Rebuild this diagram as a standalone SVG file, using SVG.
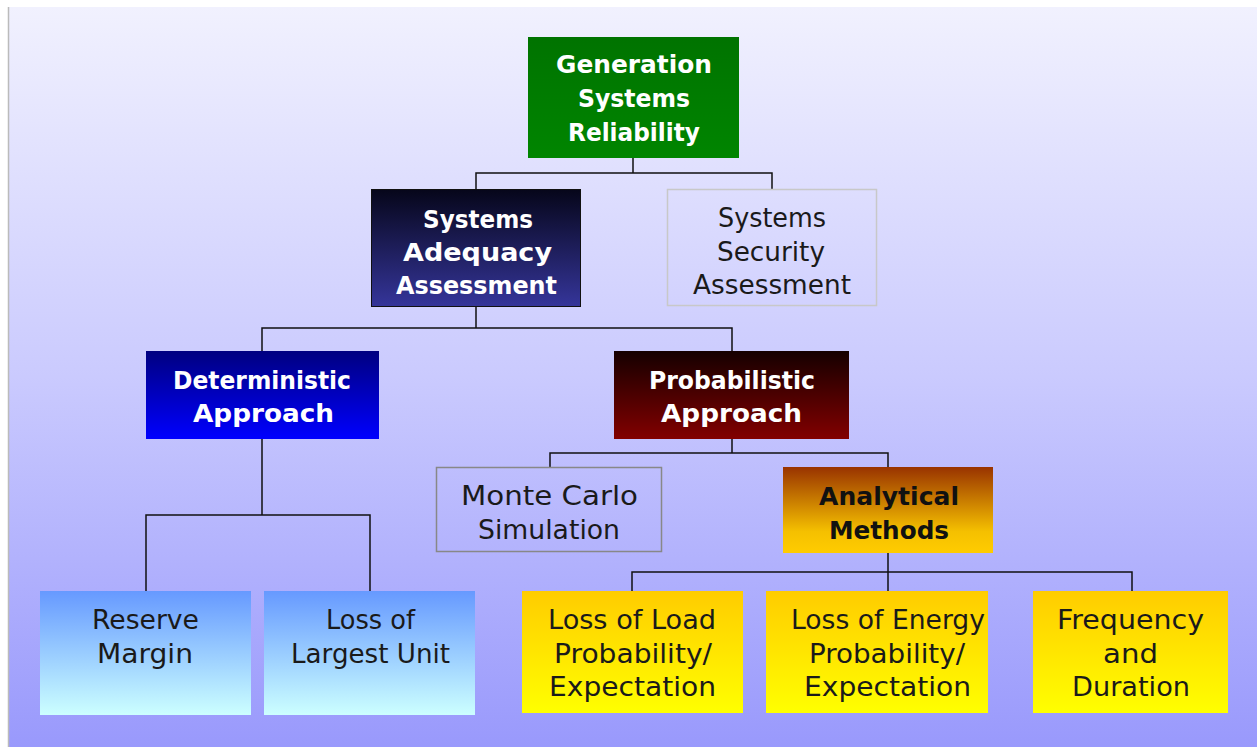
<svg xmlns="http://www.w3.org/2000/svg" width="1257" height="747" viewBox="0 0 1257 747">
<style>
.t{font-family:"DejaVu Sans","Liberation Sans",sans-serif;font-size:26px;text-anchor:middle}
.b{font-weight:bold;fill:#fff;font-size:25px}
.d{fill:#1a1a1a}
.k{font-weight:bold;fill:#111;font-size:25px}
.c{fill:none;stroke:#111;stroke-width:1.5}
</style>
<defs>
<linearGradient id="bg" x1="0" y1="0" x2="0" y2="1"><stop offset="0" stop-color="#F1F1FE"/><stop offset="0.5" stop-color="#CACAFE"/><stop offset="1" stop-color="#9999FC"/></linearGradient>
<linearGradient id="g1" x1="0" y1="0" x2="0" y2="1"><stop offset="0" stop-color="#007300"/><stop offset="1" stop-color="#008500"/></linearGradient>
<linearGradient id="g2" x1="0" y1="0" x2="0" y2="1"><stop offset="0" stop-color="#06061a"/><stop offset="1" stop-color="#35359a"/></linearGradient>
<linearGradient id="g3" x1="0" y1="0" x2="0" y2="1"><stop offset="0" stop-color="#000080"/><stop offset="1" stop-color="#0000FF"/></linearGradient>
<linearGradient id="g4" x1="0" y1="0" x2="0" y2="1"><stop offset="0" stop-color="#150000"/><stop offset="1" stop-color="#820000"/></linearGradient>
<linearGradient id="g5" x1="0" y1="0" x2="0" y2="1"><stop offset="0" stop-color="#993300"/><stop offset="0.75" stop-color="#F5C000"/><stop offset="1" stop-color="#FFCC00"/></linearGradient>
<linearGradient id="g6" x1="0" y1="0" x2="0" y2="1"><stop offset="0" stop-color="#6699FF"/><stop offset="1" stop-color="#CCFFFF"/></linearGradient>
<linearGradient id="g7" x1="0" y1="0" x2="0" y2="1"><stop offset="0" stop-color="#FFCC00"/><stop offset="1" stop-color="#FFFF00"/></linearGradient>
</defs>
<rect x="0" y="0" width="1257" height="747" fill="#fff"/>
<rect x="8" y="7" width="1249" height="740" fill="url(#bg)"/>
<line x1="8.5" y1="7" x2="8.5" y2="747" stroke="#bbb" stroke-width="1.5"/>
<g id="connectors">
<path class="c" d="M633 158V173M476 189V173H772V189"/>
<path class="c" d="M476 307V328M262 351V328H732V351"/>
<path class="c" d="M262 439V515M146 591V515H370V591"/>
<path class="c" d="M732 439V453M550 467V453H888V467"/>
<path class="c" d="M888 553V572M632 591V572H1132V591M888 572V591"/>
</g>
<g id="root"><rect x="528" y="37" width="211" height="121" fill="url(#g1)"/>
<text class="t b" x="634" y="73" textLength="156" lengthAdjust="spacingAndGlyphs">Generation</text><text class="t b" x="634" y="107" textLength="112" lengthAdjust="spacingAndGlyphs">Systems</text><text class="t b" x="634" y="141" textLength="132" lengthAdjust="spacingAndGlyphs">Reliability</text></g>
<g id="adequacy"><rect x="371.5" y="189.5" width="209" height="117" fill="url(#g2)" stroke="#111"/>
<text class="t b" x="478" y="228" textLength="110" lengthAdjust="spacingAndGlyphs">Systems</text><text class="t b" x="477.5" y="261" textLength="149" lengthAdjust="spacingAndGlyphs">Adequacy</text><text class="t b" x="476.5" y="294" textLength="161" lengthAdjust="spacingAndGlyphs">Assessment</text></g>
<g id="security"><rect x="667.5" y="189.5" width="209" height="116" fill="none" stroke="#c8c8c8" stroke-width="1.5"/>
<text class="t d" x="772" y="227" textLength="108" lengthAdjust="spacingAndGlyphs">Systems</text><text class="t d" x="771" y="261" textLength="108" lengthAdjust="spacingAndGlyphs">Security</text><text class="t d" x="772" y="294" textLength="158" lengthAdjust="spacingAndGlyphs">Assessment</text></g>
<g id="deterministic"><rect x="146" y="351" width="233" height="88" fill="url(#g3)"/>
<text class="t b" x="262" y="389" textLength="178" lengthAdjust="spacingAndGlyphs">Deterministic</text><text class="t b" x="263.5" y="422" textLength="141" lengthAdjust="spacingAndGlyphs">Approach</text></g>
<g id="probabilistic"><rect x="614" y="351" width="235" height="88" fill="url(#g4)"/>
<text class="t b" x="732" y="389" textLength="166" lengthAdjust="spacingAndGlyphs">Probabilistic</text><text class="t b" x="731.5" y="422" textLength="141" lengthAdjust="spacingAndGlyphs">Approach</text></g>
<g id="montecarlo"><rect x="436.5" y="467.5" width="225" height="84" fill="none" stroke="#888" stroke-width="1.5"/>
<text class="t d" x="549.5" y="505" textLength="177" lengthAdjust="spacingAndGlyphs">Monte Carlo</text><text class="t d" x="549" y="539" textLength="142" lengthAdjust="spacingAndGlyphs">Simulation</text></g>
<g id="analytical"><rect x="783" y="467" width="210" height="86" fill="url(#g5)"/>
<text class="t k" x="889" y="505" textLength="140" lengthAdjust="spacingAndGlyphs">Analytical</text><text class="t k" x="889" y="539" textLength="120" lengthAdjust="spacingAndGlyphs">Methods</text></g>
<g id="reserve"><rect x="40" y="591" width="211" height="124" fill="url(#g6)"/>
<text class="t d" x="145.5" y="629" textLength="107" lengthAdjust="spacingAndGlyphs">Reserve</text><text class="t d" x="145" y="663" textLength="96" lengthAdjust="spacingAndGlyphs">Margin</text></g>
<g id="largest"><rect x="264" y="591" width="211" height="124" fill="url(#g6)"/>
<text class="t d" x="370.5" y="629" textLength="89" lengthAdjust="spacingAndGlyphs">Loss of</text><text class="t d" x="370.5" y="663" textLength="159" lengthAdjust="spacingAndGlyphs">Largest Unit</text></g>
<g id="lolp"><rect x="522" y="591" width="221" height="122" fill="url(#g7)"/>
<text class="t d" x="632" y="629" textLength="168" lengthAdjust="spacingAndGlyphs">Loss of Load</text><text class="t d" x="633" y="663" textLength="158" lengthAdjust="spacingAndGlyphs">Probability/</text><text class="t d" x="632.5" y="696" textLength="167" lengthAdjust="spacingAndGlyphs">Expectation</text></g>
<g id="loee"><rect x="766" y="591" width="222" height="122" fill="url(#g7)"/>
<text class="t d" x="888" y="629" textLength="194" lengthAdjust="spacingAndGlyphs">Loss of Energy</text><text class="t d" x="887" y="663" textLength="156" lengthAdjust="spacingAndGlyphs">Probability/</text><text class="t d" x="887.5" y="696" textLength="167" lengthAdjust="spacingAndGlyphs">Expectation</text></g>
<g id="freq"><rect x="1033" y="591" width="195" height="122" fill="url(#g7)"/>
<text class="t d" x="1130.5" y="629" textLength="147" lengthAdjust="spacingAndGlyphs">Frequency</text><text class="t d" x="1130.5" y="663" textLength="55" lengthAdjust="spacingAndGlyphs">and</text><text class="t d" x="1131" y="696" textLength="118" lengthAdjust="spacingAndGlyphs">Duration</text></g>
</svg>
